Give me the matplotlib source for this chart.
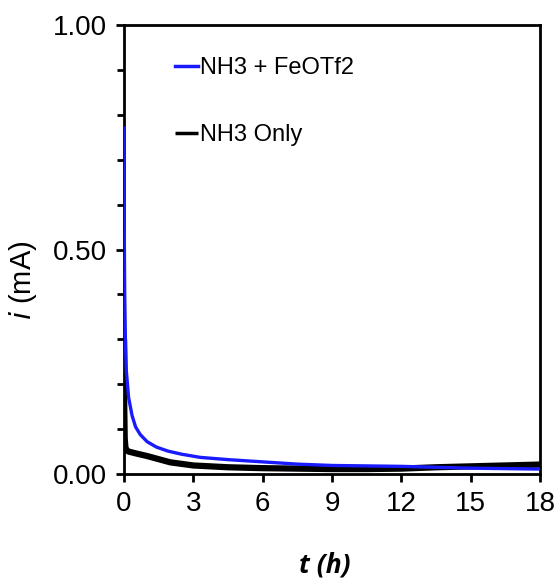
import matplotlib
matplotlib.use("Agg")
import matplotlib.pyplot as plt
from matplotlib.ticker import MultipleLocator

plt.rcParams['font.family'] = ['Liberation Sans', 'DejaVu Sans']

t_fe = [0.0, 0.01, 0.03, 0.06, 0.1, 0.2, 0.35, 0.5, 0.7, 1.0, 1.4, 1.9, 2.5, 3.3, 4.5, 6.0, 7.5, 9.0, 10.5, 12.0, 13.5, 15.0, 16.5, 18.0]
i_fe = [0.77, 0.55, 0.40, 0.30, 0.23, 0.17, 0.13, 0.105, 0.088, 0.072, 0.060, 0.051, 0.044, 0.037, 0.032, 0.027, 0.022, 0.019, 0.018, 0.017, 0.015, 0.013, 0.012, 0.011]

t_nh3 = [0.0, 0.01, 0.03, 0.06, 0.1, 0.2, 0.5, 1.0, 1.5, 2.0, 3.0, 4.5, 6.0, 7.5, 9.0, 10.5, 12.0, 13.5, 15.0, 16.5, 18.0]
i_nh3 = [0.30, 0.15, 0.08, 0.06, 0.053, 0.050, 0.046, 0.040, 0.033, 0.026, 0.019, 0.015, 0.013, 0.012, 0.011, 0.011, 0.012, 0.015, 0.017, 0.019, 0.021]

xticks = [0, 3, 6, 9, 12, 15, 18]
yticks = [0.0, 0.5, 1.0]
ytick_labels = ["0.00", "0.50", "1.00"]

fig = plt.figure(figsize=(5.6, 5.81), dpi=100)
ax = fig.add_axes([124/560, 1 - 474/581, (540-124)/560, (474-25)/581])

ax.plot(t_nh3, i_nh3, color='black', lw=4.5, solid_capstyle='butt', label='NH3 Only', zorder=2)
ax.plot(t_fe, i_fe, color='#1a1aff', lw=2.4, label='NH3 + FeOTf2', zorder=3)

ax.set_xlim(0, 18)
ax.set_ylim(0, 1)
ax.set_xticks(xticks)
ax.set_xticklabels([str(x) for x in xticks])
ax.set_yticks(yticks)
ax.set_yticklabels(ytick_labels)
ax.yaxis.set_minor_locator(MultipleLocator(0.1))
ax.tick_params(axis='both', which='major', direction='out', length=6, width=2, labelsize=20, pad=6, color='black')
ax.tick_params(axis='y', which='minor', direction='out', length=5, width=2)
for s in ax.spines.values():
    s.set_linewidth(2)

ax.set_xlabel('t (h)', fontsize=19, fontweight='bold', style='italic', family='Open Sans')
ax.xaxis.set_label_coords(0.482, -0.172)
ax.set_ylabel(r'$\it{i}$ (mA)', fontsize=21)
ax.yaxis.set_label_coords(-0.205, 0.432)

handles, labels = ax.get_legend_handles_labels()
leg = ax.legend(handles[::-1], labels[::-1], loc='upper left', bbox_to_anchor=(0.071, 0.975),
                frameon=False, fontsize=17, handlelength=1.0, handletextpad=0.05, labelspacing=1.9)
for h in leg.get_lines():
    h.set_linewidth(2.5)

fig.savefig('out.png', dpi=100)
